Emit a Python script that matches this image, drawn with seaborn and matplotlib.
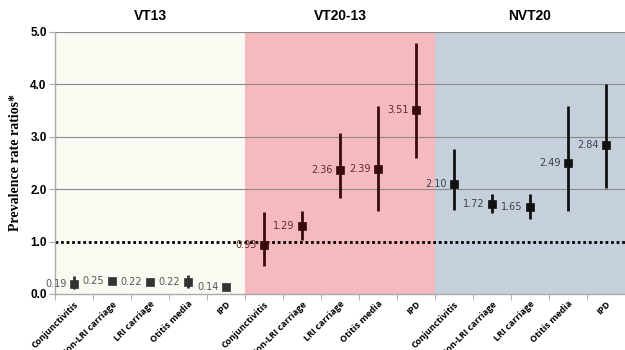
import numpy as np
import pandas as pd
import matplotlib
matplotlib.use("Agg")
import matplotlib.pyplot as plt
import seaborn as sns

# --- DATA ---
groups = ["VT13", "VT20-13", "NVT20"]
outcomes = ["Conjunctivitis", "Non-LRI carriage", "LRI carriage", "Otitis media", "IPD"]

vt13_prr = [0.19, 0.25, 0.22, 0.22, 0.14]
vt13_lo = [0.10, 0.20, 0.18, 0.12, 0.10]
vt13_hi = [0.35, 0.30, 0.27, 0.37, 0.18]

vt2013_prr = [0.93, 1.29, 2.36, 2.39, 3.51]
vt2013_lo = [0.54, 1.03, 1.83, 1.59, 2.60]
vt2013_hi = [1.57, 1.59, 3.07, 3.59, 4.78]

nvt20_prr = [2.10, 1.72, 1.65, 2.49, 2.84]
nvt20_lo = [1.60, 1.55, 1.43, 1.58, 2.02]
nvt20_hi = [2.77, 1.91, 1.91, 3.59, 4.00]

bg_colors = ["#fafaf2", "#f5babd", "#c6d0dc"]
mark_colors = ["#333333", "#3a0b0b", "#111111"]
label_colors = ["#555555", "#5a2e2e", "#3a4250"]

df = pd.DataFrame({
    "group": np.repeat(groups, len(outcomes)),
    "outcome": outcomes * 3,
    "prr": vt13_prr + vt2013_prr + nvt20_prr,
    "lo": vt13_lo + vt2013_lo + nvt20_lo,
    "hi": vt13_hi + vt2013_hi + nvt20_hi,
})
df["pos"] = np.arange(len(df))

fig = plt.figure(figsize=(6.25, 3.5), dpi=100)
ax = fig.add_axes([0.088, 0.16, 0.912, 0.749])

n = len(outcomes)
for i, g in enumerate(groups):
    ax.axvspan(i * n - 0.5, (i + 1) * n - 0.5, color=bg_colors[i], zorder=0, lw=0)
    ax.text((i * n + (i + 1) * n - 1) / 2, 5.17, g, ha="center", va="bottom",
            fontsize=10, fontweight="bold", family="Liberation Sans")

for y in [2, 3, 4, 5]:
    ax.axhline(y, color="#8a8a8a", lw=0.8, zorder=1)
ax.axhline(1.0, color="black", lw=2, ls=(0, (1, 1)), zorder=2)

for i, g in enumerate(groups):
    sub = df[df["group"] == g]
    ax.vlines(sub["pos"], sub["lo"], sub["hi"], color=mark_colors[i], lw=2, zorder=3)
    sns.scatterplot(data=sub, x="pos", y="prr", marker="s", s=40, color=mark_colors[i],
                    edgecolor=mark_colors[i], zorder=4, ax=ax, legend=False)
    for _, r in sub.iterrows():
        ax.text(r["pos"] - 0.2, r["prr"], f"{r['prr']:.2f}", ha="right", va="center",
                fontsize=7, color=label_colors[i], zorder=5)

ax.set_xlim(-0.5, len(df) - 0.5)
ax.set_ylim(0, 5)
ax.set_yticks([0, 1, 2, 3, 4, 5])
ax.set_yticklabels([f"{v:.1f}" for v in range(6)], fontsize=8.5, fontweight="bold",
                   family="Liberation Sans")
ax.set_xticks(df["pos"])
ax.set_xticklabels(df["outcome"], rotation=45, ha="right", rotation_mode="anchor",
                   fontsize=6.5, fontweight="bold", family="Open Sans")
ax.tick_params(axis="x", length=0, pad=4)
ax.set_xticks(np.arange(-0.5, len(df), 1), minor=True)
ax.tick_params(axis="x", which="minor", length=4, color="#aaaaaa")
ax.tick_params(axis="y", length=4, color="#aaaaaa", pad=2)
ax.set_xlabel("")
ax.set_ylabel("Prevalence rate ratios*", fontsize=10, fontweight="bold",
              family="Liberation Serif", labelpad=6)

for s in ["top", "right"]:
    ax.spines[s].set_visible(False)
for s in ["left", "bottom"]:
    ax.spines[s].set_color("#aaaaaa")
    ax.spines[s].set_linewidth(1)

fig.savefig("out.png", dpi=100)
